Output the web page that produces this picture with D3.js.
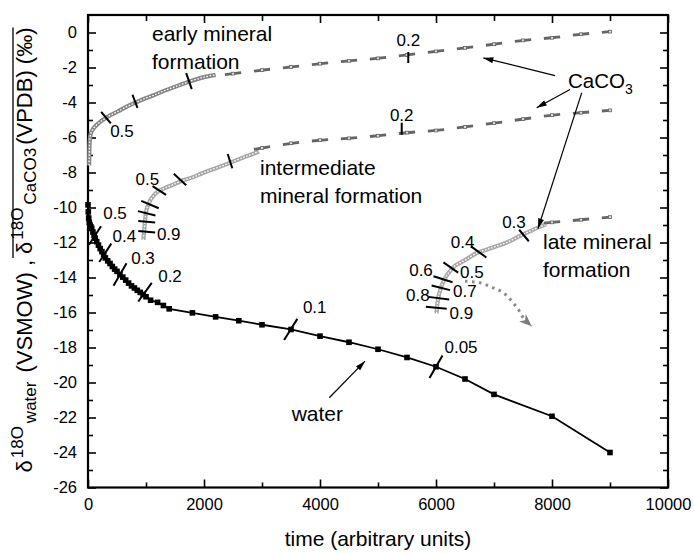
<!DOCTYPE html>
<html>
<head>
<meta charset="utf-8">
<script src="https://cdn.jsdelivr.net/npm/d3@7"></script>
<style>
  body { margin: 0; background: #fff; }
  text { font-family: "Liberation Sans", Arial, sans-serif; fill: #000; }
</style>
</head>
<body>
<svg id="chart" width="694" height="553"></svg>
<script>
// ---------- values ----------
const xMajor = [0, 2000, 4000, 6000, 8000, 10000];
const xMinor = [1000, 3000, 5000, 7000, 9000];
const yMajor = [-26, -24, -22, -20, -18, -16, -14, -12, -10, -8, -6, -4, -2, 0];
const yMinor = [-25, -23, -21, -19, -17, -15, -13, -11, -9, -7, -5, -3, -1];

// water (black squares)
const waterTime = [0, 5, 12, 22, 35, 50, 65, 85, 105, 125, 150, 180, 210, 240, 270, 300, 340, 380, 420, 460,
  500, 550, 600, 650, 700, 750, 800, 850, 900, 950, 1000, 1080, 1200, 1300, 1400, 1800, 2200, 2600, 3000, 3500,
  4000, 4500, 5000, 5500, 6000, 6500, 7000, 8000, 9000];
const waterDelta = [-9.85, -10.25, -10.6, -10.85, -11.0, -11.1, -11.2, -11.4, -11.6, -11.75, -11.95, -12.15, -12.35, -12.52, -12.7, -12.88, -13.05, -13.2, -13.37, -13.52,
  -13.65, -13.83, -13.98, -14.15, -14.32, -14.48, -14.6, -14.73, -14.85, -14.97, -15.1, -15.3, -15.42, -15.6, -15.79, -16.02, -16.25, -16.47, -16.7, -16.97,
  -17.35, -17.7, -18.1, -18.57, -19.1, -19.8, -20.68, -21.93, -24.0];

// early mineral formation (CaCO3)
const earlyTime = [20, 21, 23, 26, 31, 40, 55, 80, 115, 160, 220, 300, 400, 520, 660, 810, 960, 1120, 1300, 1500, 1750, 2000, 2200];
const earlyDelta = [-7.6, -7.2, -6.8, -6.45, -6.15, -5.9, -5.7, -5.55, -5.4, -5.25, -5.08, -4.9, -4.7, -4.5, -4.25, -4.02, -3.8, -3.6, -3.35, -3.1, -2.8, -2.55, -2.42];
const earlyDashTime = [2500, 3000, 3500, 4000, 4500, 5000, 5500, 6000, 6500, 7000, 7500, 8000, 8500, 9000];
const earlyDashDelta = [-2.35, -2.15, -1.97, -1.78, -1.62, -1.48, -1.28, -1.08, -0.88, -0.67, -0.45, -0.3, -0.1, 0.05];

// intermediate mineral formation
const interTime = [955, 965, 975, 985, 995, 1005, 1020, 1045, 1080, 1125, 1180, 1250, 1330, 1450, 1600, 1800, 2000, 2250, 2500, 2750, 2950];
const interDelta = [-11.85, -11.45, -11.05, -10.7, -10.4, -10.2, -10.0, -9.8, -9.55, -9.35, -9.15, -9.0, -8.88, -8.72, -8.5, -8.28, -8.0, -7.7, -7.38, -7.05, -6.8];
const interDashTime = [3000, 3500, 4000, 4500, 5000, 5500, 6000, 6500, 7000, 7500, 8000, 8500, 9000];
const interDashDelta = [-6.6, -6.33, -6.15, -6.05, -5.9, -5.72, -5.6, -5.4, -5.18, -4.95, -4.72, -4.58, -4.45];

// late mineral formation
const lateTime = [6010, 6020, 6040, 6070, 6100, 6140, 6190, 6250, 6320, 6420, 6530, 6700, 6880, 7050, 7220, 7450, 7680, 7900];
const lateDelta = [-16.05, -15.6, -15.15, -14.75, -14.45, -14.15, -13.85, -13.6, -13.35, -13.15, -12.95, -12.6, -12.4, -12.2, -12.0, -11.62, -11.26, -10.95];
const lateDashTime = [8000, 8500, 9000];
const lateDashDelta = [-10.85, -10.7, -10.55];

// fraction marks on the curves
const waterMarks = [
  { f: "0.5", t: 121, d: -11.6 }, { f: "0.4", t: 298, d: -12.59 }, { f: "0.3", t: 552, d: -13.83 },
  { f: "0.2", t: 983, d: -14.84 }, { f: "0.1", t: 3495, d: -16.97 }, { f: "0.05", t: 6000, d: -19.1 }
];
const earlyMarks = [
  { f: "0.5", t: 310, d: -4.87 }, { f: "0.4", t: 810, d: -3.93 }, { f: "0.3", t: 1741, d: -2.78 }, { f: "0.2", t: 5522, d: -1.43 }
];
const interMarks = [
  { f: "0.2", t: 5409, d: -5.5 }, { f: "0.3", t: 2448, d: -7.35 }, { f: "0.4", t: 1586, d: -8.4 }, { f: "0.5", t: 1229, d: -9.03 },
  { f: "0.6", t: 1069, d: -9.83 }, { f: "0.7", t: 1012, d: -10.33 }, { f: "0.8", t: 1012, d: -10.82 }, { f: "0.9", t: 1012, d: -11.39 }
];
const lateMarks = [
  { f: "0.3", t: 7517, d: -11.6 }, { f: "0.4", t: 6736, d: -12.54 }, { f: "0.5", t: 6255, d: -13.43 }, { f: "0.6", t: 6121, d: -14.1 },
  { f: "0.7", t: 6083, d: -14.59 }, { f: "0.8", t: 6048, d: -15.18 }, { f: "0.9", t: 6005, d: -15.73 }
];

// ---------- drawing ----------
const svg = d3.select("#chart");
const x = d3.scaleLinear().domain([0, 10000]).range([88, 668]);
const y = d3.scaleLinear().domain([-26, 1]).range([487.5, 15]);

const defs = svg.append("defs");
defs.append("marker").attr("id", "head").attr("viewBox", "0 0 10 6")
  .attr("refX", 10).attr("refY", 3).attr("markerWidth", 11).attr("markerHeight", 6)
  .attr("markerUnits", "userSpaceOnUse").attr("orient", "auto")
  .append("path").attr("d", "M0,0L10,3L0,6Z").attr("fill", "#000");
defs.append("marker").attr("id", "greyhead").attr("viewBox", "0 0 10 8")
  .attr("refX", 10).attr("refY", 4).attr("markerWidth", 14).attr("markerHeight", 10)
  .attr("markerUnits", "userSpaceOnUse").attr("orient", "auto")
  .append("path").attr("d", "M0,0L10,4L0,8L3,4Z").attr("fill", "#7a7a7a");

function styleAxis(g) {
  g.select(".domain").remove();
  g.selectAll(".tick line").attr("stroke", "#000").attr("stroke-width", 1.6);
  g.attr("font-size", 16.5).attr("font-family", "'Liberation Sans', Arial, sans-serif");
}
const fmt = d => String(d);
svg.append("g").attr("transform", `translate(0,${y.range()[0]})`)
  .call(d3.axisBottom(x).tickValues(xMajor).tickSize(-8).tickPadding(11).tickFormat(fmt)).call(styleAxis);
svg.append("g").attr("transform", `translate(0,${y.range()[0]})`)
  .call(d3.axisBottom(x).tickValues(xMinor).tickSize(-5).tickFormat("")).call(styleAxis);
svg.append("g").attr("transform", `translate(0,${y.range()[1]})`)
  .call(d3.axisTop(x).tickValues(xMajor).tickSize(-8).tickFormat("")).call(styleAxis);
svg.append("g").attr("transform", `translate(0,${y.range()[1]})`)
  .call(d3.axisTop(x).tickValues(xMinor).tickSize(-6).tickFormat("")).call(styleAxis);
svg.append("g").attr("transform", `translate(${x.range()[0]},0)`)
  .call(d3.axisLeft(y).tickValues(yMajor).tickSize(-8).tickPadding(11).tickFormat(fmt)).call(styleAxis);
svg.append("g").attr("transform", `translate(${x.range()[0]},0)`)
  .call(d3.axisLeft(y).tickValues(yMinor).tickSize(-5).tickFormat("")).call(styleAxis);
svg.append("g").attr("transform", `translate(${x.range()[1]},0)`)
  .call(d3.axisRight(y).tickValues(yMajor).tickSize(-8).tickFormat("")).call(styleAxis);
svg.append("g").attr("transform", `translate(${x.range()[1]},0)`)
  .call(d3.axisRight(y).tickValues(yMinor).tickSize(-5).tickFormat("")).call(styleAxis);

svg.append("rect")
  .attr("x", x.range()[0]).attr("y", y.range()[1])
  .attr("width", x.range()[1] - x.range()[0]).attr("height", y.range()[0] - y.range()[1])
  .attr("fill", "none").attr("stroke", "#000").attr("stroke-width", 2.2);

const line = d3.line().x(d => x(d[0])).y(d => y(d[1])).curve(d3.curveCatmullRom.alpha(0.5));
const zipP = (ts, ds) => ts.map((t, i) => [t, ds[i]]);

// solid part of a CaCO3 curve: chain of small open symbols
function chain(ts, ds, col) {
  const d = line(zipP(ts, ds));
  svg.append("path").attr("d", d).attr("fill", "none").attr("stroke", col).attr("stroke-width", 4.2);
  svg.append("path").attr("d", d).attr("fill", "none").attr("stroke", "#fff")
    .attr("stroke-width", 1.3).attr("stroke-dasharray", "1.6,1.6");
}
// dashed part: one dash around each symbol
function dashes(ts, ds, col) {
  const pts = ts.map((t, i) => [x(t), y(ds[i])]);
  const segs = pts.map((p, i) => {
    const prev = pts[i - 1] || [2 * p[0] - pts[i + 1][0], 2 * p[1] - pts[i + 1][1]];
    const next = pts[i + 1] || p;
    const f = 0.28;
    return [[p[0] + (prev[0] - p[0]) * f, p[1] + (prev[1] - p[1]) * f],
            [p[0] + (next[0] - p[0]) * f, p[1] + (next[1] - p[1]) * f]];
  });
  svg.append("g").selectAll("line").data(segs).join("line")
    .attr("x1", s => s[0][0]).attr("y1", s => s[0][1])
    .attr("x2", s => s[1][0]).attr("y2", s => s[1][1])
    .attr("stroke", col).attr("stroke-width", 2.8);
  svg.append("g").selectAll("rect").data(pts).join("rect")
    .attr("x", p => p[0] - 1.6).attr("y", p => p[1] - 1.4).attr("width", 3.2).attr("height", 2.8)
    .attr("fill", "#ddd").attr("stroke", col).attr("stroke-width", 0.8);
}

chain(earlyTime, earlyDelta, "#858585");
dashes(earlyDashTime, earlyDashDelta, "#656565");
chain(interTime, interDelta, "#a6a6a6");
dashes(interDashTime, interDashDelta, "#656565");
chain(lateTime, lateDelta, "#a8a8a8");
dashes(lateDashTime, lateDashDelta, "#656565");

// water
const water = zipP(waterTime, waterDelta);
svg.append("path").attr("d", d3.line().x(d => x(d[0])).y(d => y(d[1]))(water))
  .attr("fill", "none").attr("stroke", "#000").attr("stroke-width", 1.8);
svg.append("g").selectAll("rect").data(water).join("rect")
  .attr("x", d => x(d[0]) - 2.8).attr("y", d => y(d[1]) - 2.8)
  .attr("width", 5.6).attr("height", 5.6).attr("fill", "#000");

// dotted arrow below the late curve
const dotPath = [[6500, -14.21], [6759, -14.3], [6988, -14.59], [7160, -14.87], [7305, -15.35], [7419, -15.83], [7505, -16.3], [7650, -16.78]];
svg.append("path").attr("d", line(dotPath)).attr("fill", "none")
  .attr("stroke", "#8a8a8a").attr("stroke-width", 3).attr("stroke-dasharray", "2.6,4.4")
  .attr("marker-end", "url(#greyhead)");

// fraction marks: [angle, length, label dx, label dy]
const markLayout = {
  water: [[57, 22, 20, -22], [57, 22, 19, -16], [60, 26, 23, -16], [54, 23, 25, -16], [58, 25, 24, -22], [60, 26, 25, -19]],
  early: [[-50, 15, 16, 14], [-69, 14], [-71, 17], [90, 11, 0, -17]],
  inter: [[90, 12, 0, -13], [-72, 15], [-43, 17], [-33, 16, -12, -11], [-23, 19], [-14, 18], [-5, 17], [-5, 17, 22, 3]],
  late: [[-50, 15, -10, -13], [-36, 19, -16, -9.5], [-35, 18, 21, 5], [-17, 20, -22, -9], [-14, 19, 24, 4], [-7, 21, -21, -3], [-5.5, 21, 25, 6]]
};
function drawMarks(marks, layout) {
  const g = svg.append("g");
  marks.forEach((m, i) => {
    const [a, len, lx, ly] = layout[i];
    const cx = x(m.t), cy = y(m.d);
    const ux = Math.cos(a * Math.PI / 180) * len / 2, uy = -Math.sin(a * Math.PI / 180) * len / 2;
    g.append("line").attr("x1", cx - ux).attr("y1", cy - uy).attr("x2", cx + ux).attr("y2", cy + uy)
      .attr("stroke", "#000").attr("stroke-width", 2);
    if (lx !== undefined) {
      g.append("text").attr("x", cx + lx).attr("y", cy + ly)
        .attr("text-anchor", "middle").attr("dominant-baseline", "central")
        .attr("font-size", 17).text(m.f);
    }
  });
}
drawMarks(waterMarks, markLayout.water);
drawMarks(earlyMarks, markLayout.early);
drawMarks(interMarks, markLayout.inter);
drawMarks(lateMarks, markLayout.late);

// annotation arrows
const arrows = [
  [[8052, -2.46], [6816, -1.45]],
  [[8310, -3.26], [7736, -4.3]],
  [[8512, -3.45], [7759, -11.2]],
  [[4160, -20.87], [4776, -18.78]]
];
svg.append("g").selectAll("line").data(arrows).join("line")
  .attr("x1", a => x(a[0][0])).attr("y1", a => y(a[0][1]))
  .attr("x2", a => x(a[1][0])).attr("y2", a => y(a[1][1]))
  .attr("stroke", "#000").attr("stroke-width", 1.2).attr("marker-end", "url(#head)");

// annotation texts
const notes = [
  ["early mineral", 1103, -0.06], ["formation", 1103, -1.66],
  ["intermediate", 2966, -7.71], ["mineral formation", 2966, -9.31],
  ["late mineral", 7845, -11.93], ["formation", 7845, -13.54],
  ["water", 3512, -21.77]
];
svg.append("g").selectAll("text").data(notes).join("text")
  .attr("x", n => x(n[1])).attr("y", n => y(n[2]))
  .attr("dominant-baseline", "central").attr("font-size", 21).text(n => n[0]);
const caco = svg.append("text").attr("x", x(8276)).attr("y", y(-2.69))
  .attr("dominant-baseline", "central").attr("font-size", 20.5);
caco.append("tspan").text("CaCO");
caco.append("tspan").attr("font-size", 14).attr("dy", 9).text("3");

// axis titles
svg.append("text").attr("x", (x.range()[0] + x.range()[1]) / 2).attr("y", 546)
  .attr("text-anchor", "middle").attr("font-size", 21).text("time (arbitrary units)");

const yt = svg.append("text").attr("transform", "translate(32,250) rotate(-90)")
  .attr("text-anchor", "middle").attr("font-size", 22);
yt.append("tspan").text("δ");
yt.append("tspan").attr("font-size", 17).attr("dx", 2).attr("dy", -9).text("18O");
yt.append("tspan").attr("font-size", 17).attr("dx", 3).attr("dy", 13).text("water");
yt.append("tspan").attr("dx", 3).attr("dy", -4).text(" (VSMOW) , δ");
yt.append("tspan").attr("font-size", 17).attr("dx", 2).attr("dy", -9).text("18O");
yt.append("tspan").attr("font-size", 17).attr("dx", 3).attr("dy", 13).text("CaCO3");
yt.append("tspan").attr("dx", 3).attr("dy", -4).text("(VPDB) (‰)");

// overline over the CaCO3 part of the title
const node = yt.node();
const full = node.textContent;
const iComma = full.indexOf(",");
const u0 = node.getEndPositionOfChar(iComma).x;
const u1 = node.getEndPositionOfChar(full.length - 1).x;
svg.append("line").attr("x1", 13).attr("x2", 13)
  .attr("y1", 250 - u0 - 2).attr("y2", 250 - u1)
  .attr("stroke", "#000").attr("stroke-width", 1.3);
</script>
</body>
</html>
